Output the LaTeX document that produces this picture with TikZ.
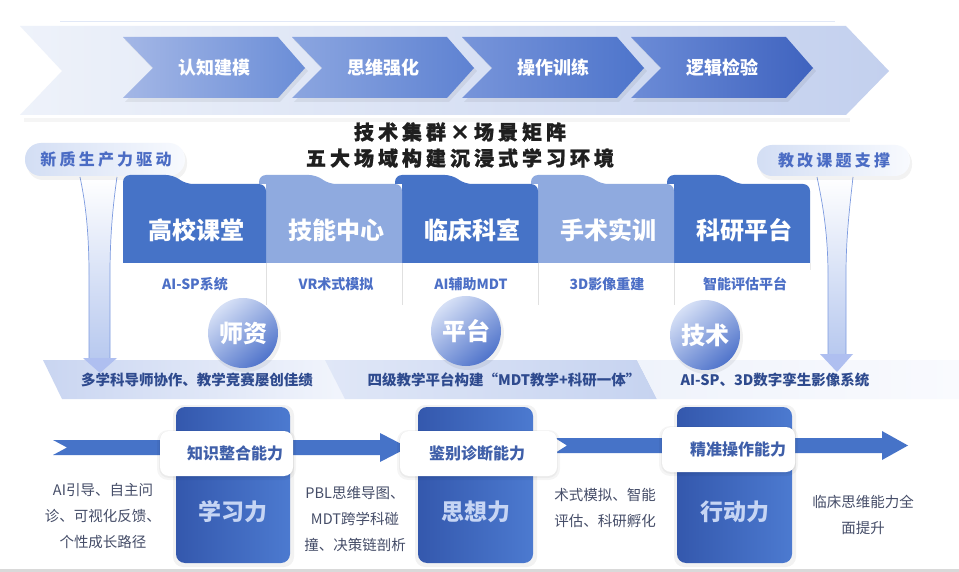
\documentclass[tikz,border=0pt]{standalone}
\usepackage{fontspec}
\setmainfont{Noto Sans CJK SC}
\newfontfamily\titlefont{Noto Sans CJK SC}[LetterSpace=20,BoldFeatures={FakeBold=1.2}]
\newfontfamily\pillfont{Noto Sans CJK SC}[LetterSpace=20]
\definecolor{bandL}{HTML}{EEF2FA}
\definecolor{bandR}{HTML}{C3D0EE}
\definecolor{pillL}{HTML}{D3DEF4}
\definecolor{pillR}{HTML}{F8FAFE}
\definecolor{pilltext}{HTML}{4B6CC4}
\definecolor{cardD}{HTML}{4673C7}
\definecolor{cardL}{HTML}{8FAADF}
\definecolor{subtext}{HTML}{4C6FC6}
\definecolor{circA}{HTML}{D6E0F6}
\definecolor{circB}{HTML}{5074CB}
\definecolor{bandtext}{HTML}{2E4A8E}
\definecolor{boxL}{HTML}{3458AD}
\definecolor{boxR}{HTML}{4C7AD0}
\definecolor{boxtext}{HTML}{C6D5F4}
\definecolor{labtext}{HTML}{3F5FA9}
\definecolor{sidetext}{HTML}{454D68}
\definecolor{arrowc}{HTML}{4673C8}
\definecolor{funnelL}{HTML}{7D9BE0}
\definecolor{funnelF}{HTML}{B8C9EF}
\definecolor{sbAL}{HTML}{C9D5F1}
\definecolor{sbAR}{HTML}{F2F5FC}
\definecolor{sbBL}{HTML}{E0E7F7}
\definecolor{sbBR}{HTML}{C6D3F0}
\definecolor{sbCL}{HTML}{EFF3FB}
\definecolor{sbCR}{HTML}{F9FAFE}
\begin{document}
\begin{tikzpicture}[x=1pt,y=-1pt,
  chevtext/.style={text=white,font=\fontsize{18}{20}\selectfont\bfseries},
  cardtitle/.style={text=white,font=\fontsize{24}{28}\selectfont\bfseries},
  subtitle/.style={text=subtext,font=\fontsize{14}{17}\selectfont\bfseries},
  circnode/.style={circle,minimum size=70pt,inner sep=0pt,shading=axis,top color=circA,bottom color=circB,shading angle=40,text=white,font=\fontsize{24}{28}\selectfont\bfseries},
  bandtxt/.style={text=bandtext,font=\fontsize{14.5}{17}\selectfont\bfseries},
  powerbox/.style={rounded corners=9pt,shading=axis,left color=boxL,right color=boxR},
  powertext/.style={text=boxtext,font=\fontsize{23}{26}\selectfont\bfseries},
  labbox/.style={rounded corners=9pt,fill=white},
  labtxt/.style={text=labtext,font=\fontsize{16}{19}\selectfont\bfseries},
  sidetxt/.style={text=sidetext,font=\fontsize{14.5}{26}\selectfont,align=center},
  pilltxt/.style={text=pilltext,font=\fontsize{16}{19}\selectfont\pillfont\bfseries},
  arrowshape/.style={fill=arrowc}
]
\useasboundingbox (0,0) rectangle (959,572);
\fill[white] (0,0) rectangle (959,572);

% ---------- top band ----------
\draw[bandR!50,line width=0.8pt] (60,21) -- (835,21);
\fill[black,opacity=0.04] (24,118) -- (850,118) -- (850,122) -- (24,122) -- cycle;
\shade[left color=bandL,right color=bandR] (20,26) -- (846,26) -- (889,71) -- (846,115) -- (20,115) -- (62,71) -- cycle;

\foreach \x/\cl/\cr/\t/\n in {123/A4B7E6/6A8DD7/认知建模/c1, 292/8CA6E0/5E82D2/思维强化/c2, 462/7895DA/4D74CB/操作训练/c3, 631/6C8CD7/3F63BF/逻辑检验/c4}{
  \definecolor{tmpL}{HTML}{\cl}\definecolor{tmpR}{HTML}{\cr}
  \fill[black,opacity=0.06] (\x+2,40) -- (\x+157,40) -- (\x+185,71) -- (\x+157,102) -- (\x+2,102) -- (\x+32,71) -- cycle;
  \shade[left color=tmpL,right color=tmpR] (\x,37) -- (\x+155,37) -- (\x+182,68) -- (\x+155,98) -- (\x,98) -- (\x+30,68) -- cycle;
  \node[chevtext] (\n) at (\x+91,68) {\t};
}

% ---------- title ----------
\node[font=\fontsize{20}{24}\selectfont\titlefont\bfseries,text=black!88] (title1) at (460,132) {技术集群×场景矩阵};
\node[font=\fontsize{20}{24}\selectfont\titlefont\bfseries,text=black!88] (title2) at (460,158) {五大场域构建沉浸式学习环境};

% ---------- funnels ----------
\shade[top color=white,bottom color=funnelF] (80,177) .. controls (86,205) and (89,235) .. (89,275) -- (89,358) -- (110,358) -- (110,275) .. controls (110,235) and (113,205) .. (117,177) -- cycle;
\draw[funnelL,line width=0.7pt] (80,177) .. controls (86,205) and (89,235) .. (89,275) -- (89,358);
\draw[funnelL,line width=0.7pt] (117,177) .. controls (113,205) and (110,235) .. (110,275) -- (110,358);
\shade[top color=white,bottom color=funnelF] (817,177) .. controls (823,205) and (828,235) .. (828,275) -- (828,354) -- (846,354) -- (846,275) .. controls (846,235) and (850,205) .. (853,177) -- cycle;
\draw[funnelL,line width=0.7pt] (817,177) .. controls (823,205) and (828,235) .. (828,275) -- (828,354);
\draw[funnelL,line width=0.7pt] (853,177) .. controls (850,205) and (846,235) .. (846,275) -- (846,354);

% ---------- pills ----------
\fill[black,opacity=0.05,rounded corners=16pt] (27,146) rectangle (187,180);
\shade[left color=pillL,right color=pillR,rounded corners=16pt] (25,143) rectangle (185,176);
\node[pilltxt] (pill1) at (106,159) {新质生产力驱动};
\fill[black,opacity=0.05,rounded corners=15pt] (759,148) rectangle (912,180);
\shade[left color=pillL,right color=pillR,rounded corners=15pt] (757,145) rectangle (910,176);
\node[pilltxt] (pill2) at (834,160) {教改课题支撑};

% ---------- folder cards (right to left) ----------
\foreach \xa/\xb/\xt/\col/\t/\n in {674/810/667/cardD/科研平台/k5, 538/674/531/cardL/手术实训/k4, 402/538/395/cardD/临床科室/k3, 266/402/259/cardL/技能中心/k2, 123/266/123/cardD/高校课堂/k1}{
  \fill[\col] (\xb,263) -- (\xa,263) -- (\xa,184) -- (\xt,184) [rounded corners=7pt] -- (\xt,175) -- (\xa+50,175) -- (\xa+63,184) -- (\xb,184) -- (\xb,263) [sharp corners] -- cycle;
  \node[cardtitle] (\n) at ({(\xa+\xb)/2+2},230) {\t};
}
\fill[white] (123,263) rectangle (812,306);
\foreach \x in {266,402,538,674}{\draw[black!12,line width=0.6pt] (\x,263) -- (\x,305);}
\draw[black!8,line width=0.6pt] (810,263) -- (810,270);
\node[subtitle] (k1s) at (195,284) {AI-SP系统};
\node[subtitle] (k2s) at (336,284) {VR术式模拟};
\node[subtitle] (k3s) at (471,284) {AI辅助MDT};
\node[subtitle] (k4s) at (607,284) {3D影像重建};
\node[subtitle] (k5s) at (745,284) {智能评估平台};

% ---------- support bands ----------
\shade[left color=sbAL,right color=sbAR] (43,360) -- (345,360) -- (345,399) -- (62,399) -- cycle;
\shade[left color=sbBL,right color=sbBR] (325,360) -- (637,360) -- (657,399) -- (345,399) -- cycle;
\shade[left color=sbCL,right color=sbCR] (637,360) -- (959,360) -- (959,399) -- (657,399) -- cycle;
\node[bandtxt] (b1) at (197,380) {多学科导师协作、教学竞赛屡创佳绩};
\node[bandtxt] (b2) at (504,380) {四级教学平台构建“MDT教学+科研一体”};
\node[bandtxt] (b3) at (775,380) {AI-SP、3D数字孪生影像系统};

% funnel arrow heads
\fill[funnelF!95!blue] (83,358) -- (117,358) -- (100,373) -- cycle;
\fill[funnelF!95!blue] (820,354) -- (853,354) -- (837,372) -- cycle;

% ---------- circles ----------
\foreach \x/\y/\t/\n in {243/333/师资/r1, 466/331/平台/r2, 705/335/技术/r3}{
  \fill[black,opacity=0.06] (\x+2,\y+3) circle (36pt);
  \node[circnode] (\n) at (\x,\y) {\t};
}

% ---------- bottom arrows ----------
\fill[arrowshape] (53,440) -- (380,440) -- (380,433) -- (408,447.5) -- (380,462) -- (380,455) -- (53,455) -- (67,447.5) -- cycle;
\fill[arrowshape] (555,438) -- (668,438) -- (668,453) -- (555,453) -- (567,445.5) -- cycle;
\fill[arrowshape] (790,438) -- (882,438) -- (882,431) -- (908,445.5) -- (882,460) -- (882,453) -- (790,453) -- cycle;

% ---------- power boxes ----------
\foreach \xa/\xb/\t/\n in {176/290/学习力/p1, 418/533/思想力/p2, 677/792/行动力/p3}{
  \fill[black,opacity=0.05,rounded corners=10pt] (\xa-3,405) rectangle (\xb+4,567);
  \shade[powerbox] (\xa,407) rectangle (\xb,563);
  \node[powertext] (\n) at ({(\xa+\xb)/2},512) {\t};
}

% ---------- label boxes ----------
\foreach \xa/\xb/\ya/\yb/\tx/\t/\n in {160/293/431/476/235/知识整合能力/l1, 400/557/431/476/477/鉴别诊断能力/l2, 662/795/427/472/738/精准操作能力/l3}{
  \fill[black,opacity=0.04,rounded corners=11pt] (\xa-3,\ya-1) rectangle (\xb+3,\yb+4);
  \fill[black,opacity=0.04,rounded corners=10pt] (\xa-1,\ya) rectangle (\xb+1,\yb+2);
  \fill[labbox] (\xa,\ya) rectangle (\xb,\yb);
  \node[labtxt] (\n) at (\tx,{(\ya+\yb)/2}) {\t};
}

% ---------- side texts ----------
\node[sidetxt] (s1) at (103,516) {AI引导、自主问\\诊、可视化反馈、\\个性成长路径};
\node[sidetxt] (s2) at (355,519) {PBL思维导图、\\MDT跨学科碰\\撞、决策链剖析};
\node[sidetxt] (s3) at (605,508) {术式模拟、智能\\评估、科研孵化};
\node[sidetxt] (s4) at (863,515) {临床思维能力全\\面提升};

% bottom strip
\fill[black!15] (0,569) rectangle (959,572);
\end{tikzpicture}
\end{document}
